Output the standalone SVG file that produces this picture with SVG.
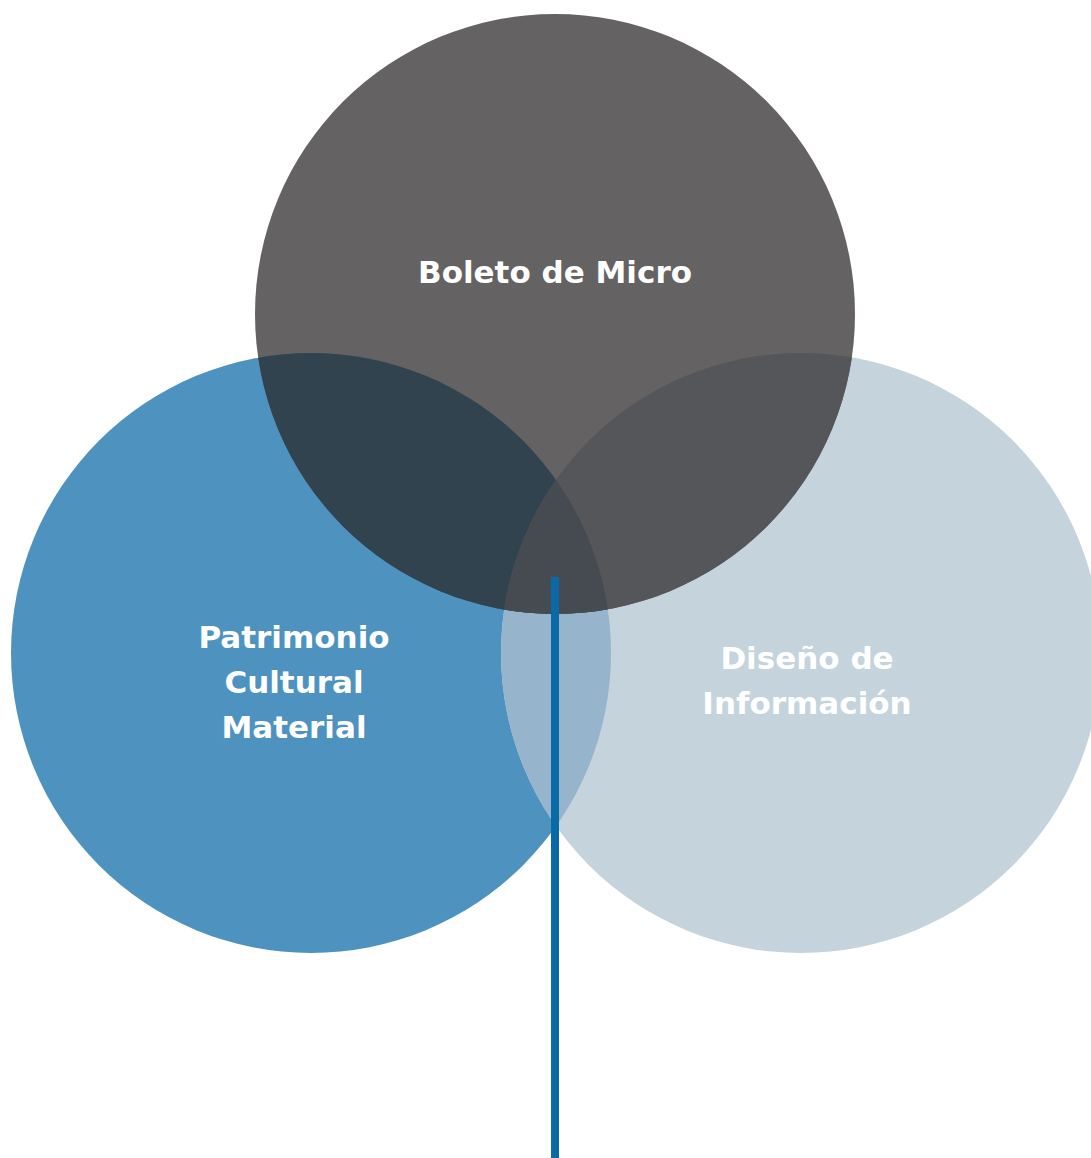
<svg xmlns="http://www.w3.org/2000/svg" width="1091" height="1158" viewBox="0 0 1091 1158">
<style>
.lbl{font-family:"DejaVu Sans","Liberation Sans",sans-serif;font-weight:bold;font-size:31px;fill:#ffffff;text-anchor:middle}
</style>
<defs>
<clipPath id="cTop"><circle cx="555" cy="314" r="300"/></clipPath>
<clipPath id="cLeft"><circle cx="311" cy="653" r="300"/></clipPath>
<clipPath id="cRight"><circle cx="801" cy="653" r="300"/></clipPath>
</defs>
<rect width="1091" height="1158" fill="#ffffff"/>
<g id="node-left"><circle cx="311" cy="653" r="300" fill="#4e93c0"/></g>
<g id="node-right"><circle cx="801" cy="653" r="300" fill="#c5d3dc"/></g>
<g id="node-top"><circle cx="555" cy="314" r="300" fill="#646262"/></g>
<g id="overlaps">
<circle cx="801" cy="653" r="300" fill="#96b4cc" clip-path="url(#cLeft)"/>
<circle cx="311" cy="653" r="300" fill="#30434f" clip-path="url(#cTop)"/>
<circle cx="801" cy="653" r="300" fill="#55565a" clip-path="url(#cTop)"/>
<g clip-path="url(#cTop)"><circle cx="801" cy="653" r="300" fill="#464b51" clip-path="url(#cLeft)"/></g>
</g>
<g id="connectors"><line x1="555" y1="577" x2="555" y2="1158" stroke="#0a6aa8" stroke-width="8"/></g>
<g id="labels">
<text class="lbl" x="555" y="283">Boleto de Micro</text>
<text class="lbl" x="294" y="648">Patrimonio</text>
<text class="lbl" x="294" y="693">Cultural</text>
<text class="lbl" x="294" y="738">Material</text>
<text class="lbl" x="807" y="669">Diseño de</text>
<text class="lbl" x="807" y="714">Información</text>
</g>
</svg>
